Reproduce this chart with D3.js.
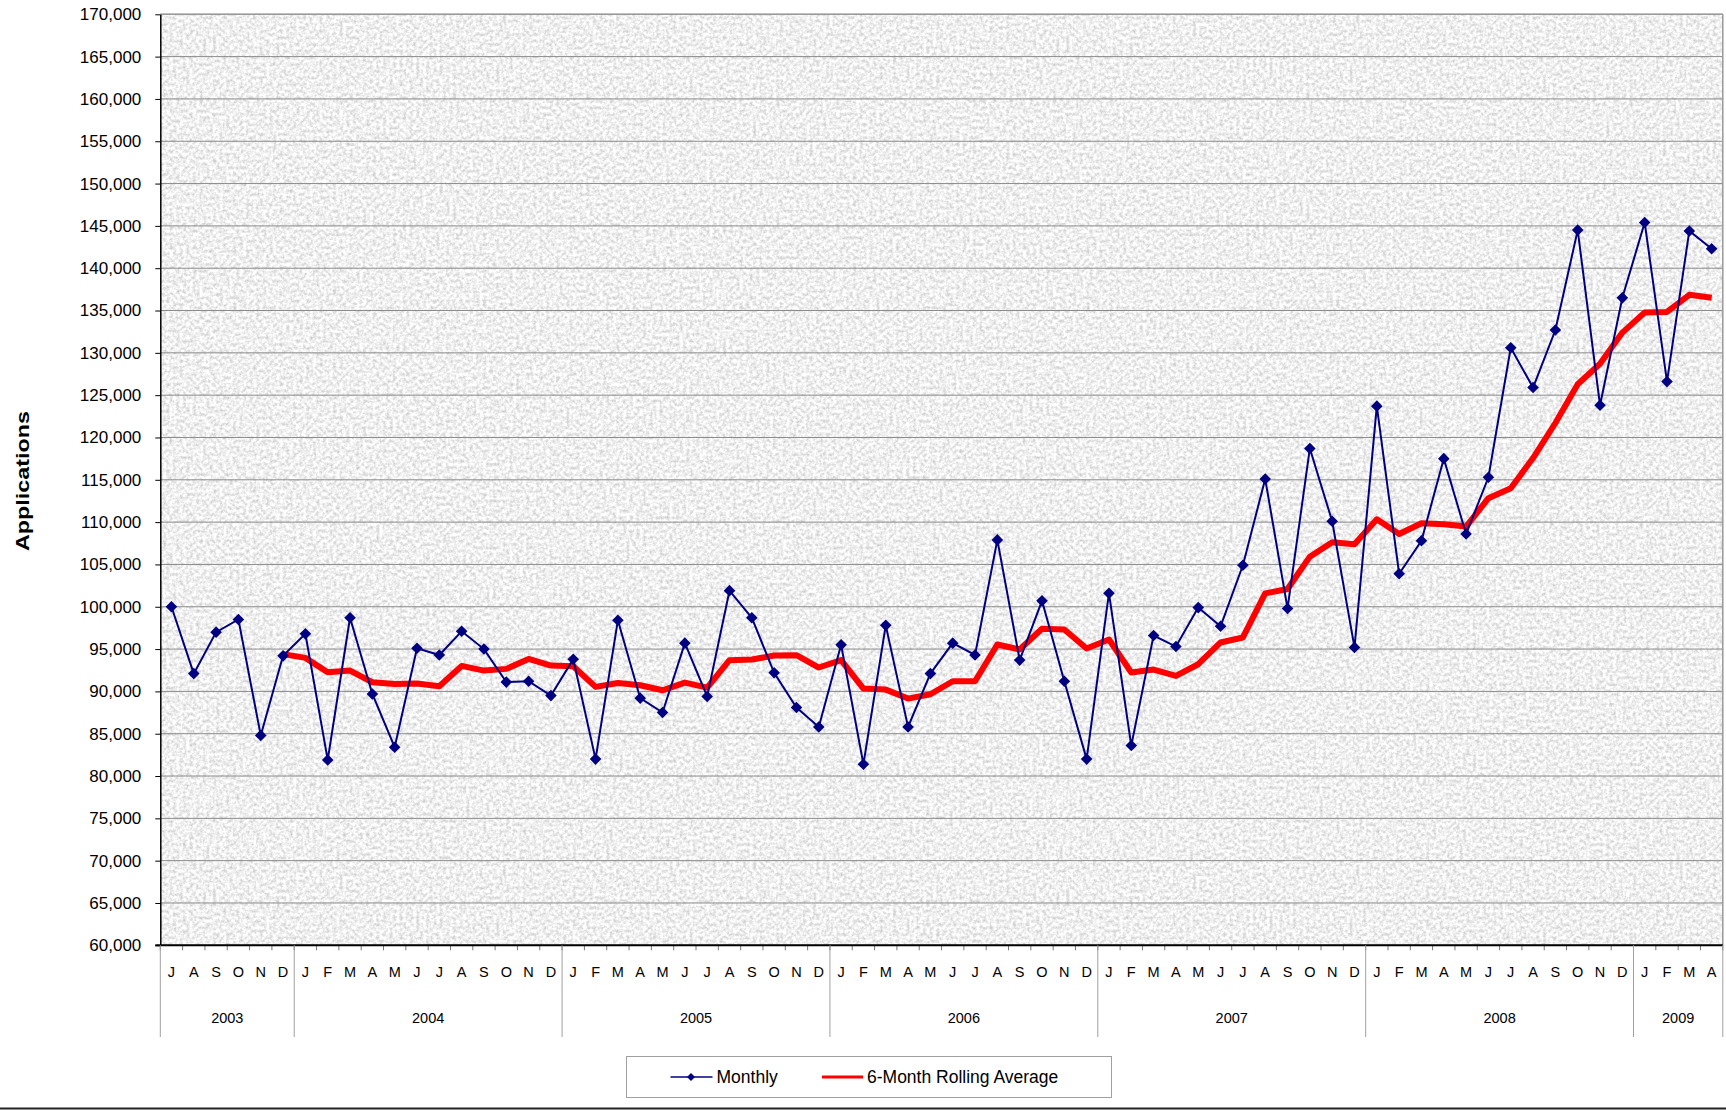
<!DOCTYPE html>
<html>
<head>
<meta charset="utf-8">
<script src="https://cdn.jsdelivr.net/npm/d3@7"></script>
<style>
  body { margin: 0; background: #fff; }
  svg text { font-family: "Liberation Sans", Arial, sans-serif; fill: #000; }
</style>
</head>
<body>
<div id="chart"></div>
<script>
var svgWidth = 1726;
var svgHeight = 1110;

// month / year categories (Jul 2003 .. Apr 2009)
var monthLetters = ["J","A","S","O","N","D",
  "J","F","M","A","M","J","J","A","S","O","N","D",
  "J","F","M","A","M","J","J","A","S","O","N","D",
  "J","F","M","A","M","J","J","A","S","O","N","D",
  "J","F","M","A","M","J","J","A","S","O","N","D",
  "J","F","M","A","M","J","J","A","S","O","N","D",
  "J","F","M","A"];
var years = ["2003", "2004", "2005", "2006", "2007", "2008", "2009"];
var monthsPerYear = [6, 12, 12, 12, 12, 12, 4];

var monthly = [100000, 92100, 97000, 98500, 84800, 94200,
  96800, 81900, 98700, 89700, 83400, 95100, 94300, 97100, 95000, 91100, 91200, 89500,
  93800, 82000, 98400, 89200, 87500, 95700, 89400, 101900, 98700, 92200, 88100, 85800,
  95500, 81400, 97800, 85800, 92100, 95700, 94300, 107900, 93700, 100700, 91200, 82000,
  101600, 83600, 96600, 95300, 99900, 97700, 104900, 115100, 99800, 118700, 110100, 95200,
  123700, 103900, 107800, 117500, 108600, 115300, 130600, 125900, 132700, 144500, 123800, 136500,
  145400, 126600, 144400, 142300];

// 6-month rolling average starts at Dec 2003 (index 5)
var rollingStart = 5;
var rolling = [94400,
  93960, 92270, 92460, 91080, 90880, 90920, 90610, 93010, 92460, 92660, 93840, 93050,
  92970, 90530, 91000, 90730, 90130, 91040, 90450, 93690, 93760, 94240, 94280, 92820,
  93690, 90330, 90210, 89150, 89660, 91200, 91200, 95540, 94950, 97400, 97320, 95070,
  96130, 92230, 92580, 91830, 93210, 95780, 96370, 101580, 102090, 105920, 107620, 107380,
  110340, 108600, 109870, 109750, 109470, 112830, 114010, 117570, 121710, 126300, 128710, 132390,
  134760, 134840, 136860, 136500];

var yTicks = d3.range(60000, 170001, 5000);

var plot = { left: 160.3, right: 1722.8, top: 14.3, bottom: 945.3 };

var svg = d3.select("#chart")
  .append("svg")
  .attr("width", svgWidth)
  .attr("height", svgHeight);

// granite-like texture for the plot area
var defs = svg.append("defs");
var filt = defs.append("filter")
  .attr("id", "granite")
  .attr("x", 0).attr("y", 0).attr("width", "100%").attr("height", "100%")
  .attr("color-interpolation-filters", "sRGB");
filt.append("feTurbulence")
  .attr("type", "fractalNoise")
  .attr("baseFrequency", "0.3")
  .attr("numOctaves", 3)
  .attr("seed", 11);
filt.append("feColorMatrix")
  .attr("type", "matrix")
  .attr("values", "0.38 0 0 0 0.75  0.38 0 0 0 0.75  0.38 0 0 0 0.75  0 0 0 0 1");

var idx = monthLetters.map(function(d, i) { return i; });

var x = d3.scaleBand()
  .domain(idx)
  .range([plot.left, plot.right])
  .padding(0);

var y = d3.scaleLinear()
  .domain([60000, 170000])
  .range([plot.bottom, plot.top]);

// plot background
svg.append("rect")
  .attr("x", plot.left).attr("y", plot.top)
  .attr("width", plot.right - plot.left)
  .attr("height", plot.bottom - plot.top)
  .attr("filter", "url(#granite)");

// gridlines
svg.append("g")
  .selectAll("line")
  .data(yTicks)
  .enter()
  .append("line")
  .attr("x1", plot.left).attr("x2", plot.right)
  .attr("y1", function(d) { return y(d); })
  .attr("y2", function(d) { return y(d); })
  .attr("stroke", "#8a8a8a")
  .attr("stroke-width", 1);

// top / right border
svg.append("line")
  .attr("x1", plot.right).attr("x2", plot.right)
  .attr("y1", plot.top).attr("y2", plot.bottom)
  .attr("stroke", "#999").attr("stroke-width", 1.5);
svg.append("line")
  .attr("x1", plot.left).attr("x2", plot.right)
  .attr("y1", plot.top).attr("y2", plot.top)
  .attr("stroke", "#999").attr("stroke-width", 1.5);

// y axis
var leftAxis = d3.axisLeft(y)
  .tickValues(yTicks)
  .tickFormat(d3.format(","))
  .tickSizeInner(5)
  .tickSizeOuter(0)
  .tickPadding(14);
var yAxisG = svg.append("g")
  .attr("transform", "translate(" + plot.left + ",0)")
  .call(leftAxis);
yAxisG.select(".domain").attr("stroke", "#000").attr("stroke-width", 1.5);
yAxisG.selectAll(".tick line").attr("stroke", "#000");
yAxisG.selectAll("text")
  .style("font-size", "17px")
  .style("font-family", "'Liberation Sans', Arial, sans-serif");

// x axis: month ticks at band boundaries
var boundaries = idx.map(function(i) { return x(i); }).concat([plot.right]);
svg.append("g")
  .selectAll("line")
  .data(boundaries)
  .enter()
  .append("line")
  .attr("x1", function(d) { return d; })
  .attr("x2", function(d) { return d; })
  .attr("y1", plot.bottom).attr("y2", plot.bottom + 5)
  .attr("stroke", "#777").attr("stroke-width", 1);

svg.append("line")
  .attr("x1", plot.left - 5).attr("x2", plot.right)
  .attr("y1", plot.bottom).attr("y2", plot.bottom)
  .attr("stroke", "#000").attr("stroke-width", 2);

svg.append("g")
  .selectAll("text")
  .data(monthLetters)
  .enter()
  .append("text")
  .attr("x", function(d, i) { return x(i) + x.bandwidth() / 2; })
  .attr("y", 977)
  .attr("text-anchor", "middle")
  .style("font-size", "14.5px")
  .text(function(d) { return d; });

// year groups
var yearStarts = [];
var acc = 0;
monthsPerYear.forEach(function(n) { yearStarts.push(acc); acc += n; });

var dividers = yearStarts.map(function(s) { return x(s); }).concat([plot.right]);
svg.append("g")
  .selectAll("line")
  .data(dividers)
  .enter()
  .append("line")
  .attr("x1", function(d) { return d; })
  .attr("x2", function(d) { return d; })
  .attr("y1", plot.bottom).attr("y2", 1037)
  .attr("stroke", "#a0a0a0").attr("stroke-width", 1);

svg.append("g")
  .selectAll("text")
  .data(years)
  .enter()
  .append("text")
  .attr("x", function(d, i) {
    var a = x(yearStarts[i]);
    var b = i < years.length - 1 ? x(yearStarts[i + 1]) : plot.right;
    return (a + b) / 2;
  })
  .attr("y", 1023)
  .attr("text-anchor", "middle")
  .style("font-size", "14.5px")
  .text(function(d) { return d; });

// y axis title
svg.append("text")
  .attr("transform", "translate(29,481) rotate(-90)")
  .attr("text-anchor", "middle")
  .attr("textLength", 140)
  .attr("lengthAdjust", "spacingAndGlyphs")
  .style("font-size", "19px")
  .style("font-weight", "bold")
  .text("Applications");

// lines
var cx = function(i) { return x(i) + x.bandwidth() / 2; };

var lineMonthly = d3.line()
  .x(function(d, i) { return cx(i); })
  .y(function(d) { return y(d); });

var lineRolling = d3.line()
  .x(function(d, i) { return cx(i + rollingStart); })
  .y(function(d) { return y(d); });

svg.append("path")
  .datum(rolling)
  .attr("d", lineRolling)
  .attr("fill", "none")
  .attr("stroke", "#ff0000")
  .attr("stroke-width", 6)
  .attr("stroke-linejoin", "round");

svg.append("path")
  .datum(monthly)
  .attr("d", lineMonthly)
  .attr("fill", "none")
  .attr("stroke", "#000080")
  .attr("stroke-width", 2);

// square diamond marker
var diamond = function(r) {
  return "M0," + (-r) + "L" + r + ",0L0," + r + "L" + (-r) + ",0Z";
};
svg.append("g")
  .selectAll("path")
  .data(monthly)
  .enter()
  .append("path")
  .attr("d", diamond(5.8))
  .attr("transform", function(d, i) { return "translate(" + cx(i) + "," + y(d) + ")"; })
  .attr("fill", "#000080");

// legend
var legend = svg.append("g");
legend.append("rect")
  .attr("x", 626.5).attr("y", 1056.5)
  .attr("width", 485).attr("height", 41)
  .attr("fill", "#fff")
  .attr("stroke", "#a0a0a0").attr("stroke-width", 1);

legend.append("line")
  .attr("x1", 670.5).attr("x2", 712.5)
  .attr("y1", 1077).attr("y2", 1077)
  .attr("stroke", "#000080").attr("stroke-width", 1.5);
legend.append("path")
  .attr("d", diamond(4))
  .attr("transform", "translate(691,1077)")
  .attr("fill", "#000080");
legend.append("text")
  .attr("x", 716.5).attr("y", 1083)
  .style("font-size", "17.5px")
  .text("Monthly");

legend.append("line")
  .attr("x1", 822).attr("x2", 863)
  .attr("y1", 1077).attr("y2", 1077)
  .attr("stroke", "#ff0000").attr("stroke-width", 3);
legend.append("text")
  .attr("x", 867).attr("y", 1083)
  .style("font-size", "17.5px")
  .text("6-Month Rolling Average");

// bottom rule of the chart frame
svg.append("line")
  .attr("x1", 0).attr("x2", svgWidth)
  .attr("y1", 1108.5).attr("y2", 1108.5)
  .attr("stroke", "#222").attr("stroke-width", 2);
</script>
</body>
</html>
